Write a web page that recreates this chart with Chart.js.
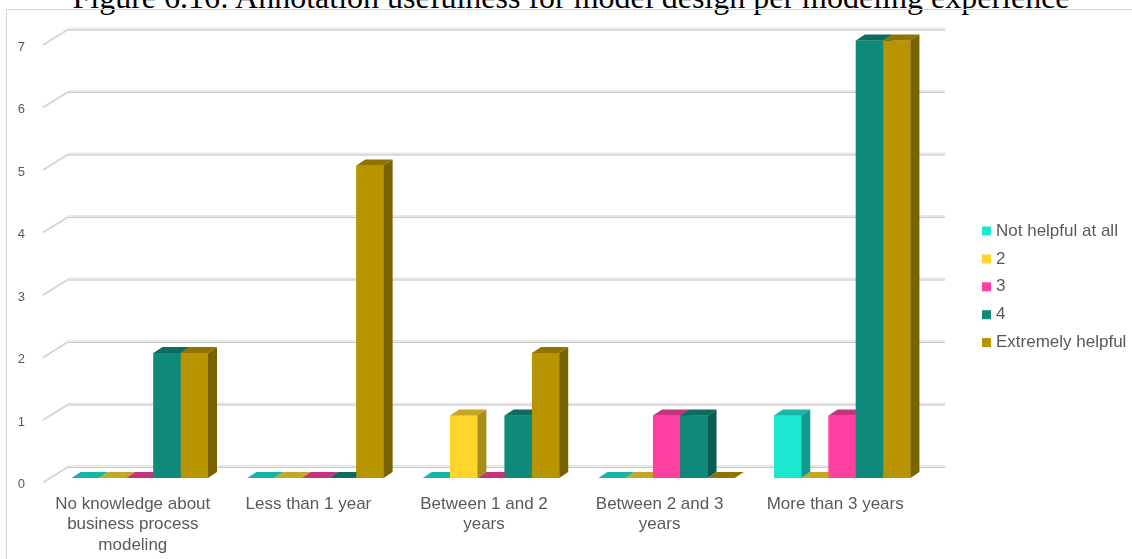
<!DOCTYPE html>
<html lang="en">
<head>
<meta charset="UTF-8">
<title>Annotation usefulness for model design per modeling experience</title>
<script src="https://cdn.jsdelivr.net/npm/chart.js"></script>
<style>
  html, body { margin: 0; padding: 0; background: #fff; overflow: hidden; }
  .page { position: relative; width: 1132px; height: 559px; overflow: hidden; }
  .caption {
    position: absolute; left: 0; width: 1142px; top: -19px;
    text-align: center; white-space: nowrap; color: #000;
    font: 32px/32px "Liberation Serif", "Times New Roman", serif;
  }
  .frame {
    position: absolute; left: 6px; top: 9px; right: 0; bottom: 0;
    border-left: 1px solid #d6d6d6; border-top: 1px solid #d6d6d6;
  }
  canvas { position: absolute; left: 0; top: 0; }
</style>
</head>
<body>
<div class="page">
  <div class="caption">Figure 6.16: Annotation usefulness for model design per modeling experience</div>
  <div class="frame"></div>
  <canvas id="chart" width="1132" height="559"></canvas>
</div>

<script>
// Experience groups on the x axis
const categories = [
  ['No knowledge about', 'business process', 'modeling'],
  'Less than 1 year',
  ['Between 1 and 2', 'years'],
  ['Between 2 and 3', 'years'],
  'More than 3 years'
];

// Number of answers per rating
const notHelpful       = [0, 0, 0, 0, 1];
const rating2          = [0, 0, 1, 0, 0];
const rating3          = [0, 0, 0, 1, 1];
const rating4          = [2, 0, 1, 1, 7];
const extremelyHelpful = [2, 5, 2, 0, 7];

const seriesLabels = ['Not helpful at all', '2', '3', '4', 'Extremely helpful'];
const seriesColors = ['#1ce8d2', '#ffd52b', '#ff40a0', '#0f8a7a', '#b89500'];

const yMin = 0, yMax = 7, yStep = 1;

// fake 3D: bar depth offsets
const BAR_DX = 9, BAR_DY = -6;
const LABEL_COLOR = '#595959';

function shade(hex, f) {
  const n = parseInt(hex.slice(1), 16);
  const r = Math.round(((n >> 16) & 255) * f);
  const g = Math.round(((n >> 8) & 255) * f);
  const b = Math.round((n & 255) * f);
  return `rgb(${r},${g},${b})`;
}

const bars3d = {
  id: 'bars3d',
  beforeDatasetsDraw(chart) {
    const { ctx, chartArea, scales: { y } } = chart;
    ctx.save();
    y.ticks.forEach(t => {
      const py = y.getPixelForValue(t.value);
      const backY = py - 11;
      // diagonal stub from the axis to the back wall
      ctx.strokeStyle = '#d4d4d4';
      ctx.lineWidth = 2;
      ctx.beginPath();
      ctx.moveTo(chartArea.left - 9, py + 4.5);
      ctx.lineTo(chartArea.left + 16, backY);
      ctx.stroke();
      // back wall line
      ctx.fillStyle = '#e9e9e9';
      ctx.fillRect(chartArea.left + 16, backY - 2, chartArea.right - chartArea.left - 1, 3);
      ctx.fillStyle = '#c9c9c9';
      ctx.fillRect(chartArea.left + 16, backY, chartArea.right - chartArea.left - 1, 1);
    });
    ctx.restore();
  },
  afterDatasetsDraw(chart) {
    // Chart.js paints dataset 0 last, so repaint every bar left to right
    // (front, top, side) so the nearer bar covers its neighbour's side
    const { ctx } = chart;
    ctx.save();
    chart.data.datasets.forEach((ds, i) => {
      const color = ds.backgroundColor;
      chart.getDatasetMeta(i).data.forEach(bar => {
        const { x, y, base, width } = bar.getProps(['x', 'y', 'base', 'width'], true);
        const l = x - width / 2, r = x + width / 2;
        ctx.fillStyle = color;
        ctx.fillRect(l, y, width, base - y);
        // top face
        ctx.fillStyle = shade(color, 0.78);
        ctx.beginPath();
        ctx.moveTo(l, y);
        ctx.lineTo(r, y);
        ctx.lineTo(r + BAR_DX, y + BAR_DY);
        ctx.lineTo(l + BAR_DX, y + BAR_DY);
        ctx.closePath();
        ctx.fill();
        // right side face
        if (base - y > 0.5) {
          ctx.fillStyle = shade(color, 0.66);
          ctx.beginPath();
          ctx.moveTo(r, y);
          ctx.lineTo(r + BAR_DX, y + BAR_DY);
          ctx.lineTo(r + BAR_DX, base + BAR_DY);
          ctx.lineTo(r, base);
          ctx.closePath();
          ctx.fill();
        }
      });
    });
    ctx.restore();
  },
  afterDraw(chart) {
    // legend to the right of the plot
    const { ctx, chartArea } = chart;
    const x0 = chartArea.right + 52;
    const top = 231;
    ctx.save();
    ctx.font = '17px "Liberation Sans", Arial, sans-serif';
    ctx.textBaseline = 'middle';
    chart.data.datasets.forEach((ds, i) => {
      const cy = top + i * 27.9;
      ctx.fillStyle = ds.backgroundColor;
      ctx.fillRect(x0, cy - 4.5, 9, 9);
      ctx.fillStyle = LABEL_COLOR;
      ctx.fillText(ds.label, x0 + 14, cy);
    });
    ctx.restore();
  }
};

const seriesData = [notHelpful, rating2, rating3, rating4, extremelyHelpful];

new Chart(document.getElementById('chart'), {
  type: 'bar',
  data: {
    labels: categories,
    datasets: seriesData.map((d, i) => ({
      label: seriesLabels[i],
      data: d,
      backgroundColor: seriesColors[i],
      borderWidth: 0,
      categoryPercentage: 0.777,
      barPercentage: 1.0
    }))
  },
  options: {
    responsive: false,
    animation: false,
    layout: { padding: { top: 40.5, right: 202, bottom: 0, left: 0 } },
    plugins: {
      legend: { display: false },
      tooltip: { enabled: false }
    },
    scales: {
      x: {
        grid: { display: false },
        border: { display: false },
        ticks: {
          color: LABEL_COLOR,
          font: { family: '"Liberation Sans", Arial, sans-serif', size: 17 },
          padding: 8,
          labelOffset: -7,
          maxRotation: 0,
          autoSkip: false
        },
        afterFit(scale) { scale.height = 81; }
      },
      y: {
        min: yMin,
        max: yMax,
        grid: { display: false },
        border: { display: false },
        ticks: {
          stepSize: yStep,
          color: LABEL_COLOR,
          font: { family: '"Liberation Sans", Arial, sans-serif', size: 13 },
          padding: 19,
          labelOffset: 6.5
        },
        afterFit(scale) { scale.width = 52; }
      }
    }
  },
  plugins: [bars3d]
});
</script>
</body>
</html>
